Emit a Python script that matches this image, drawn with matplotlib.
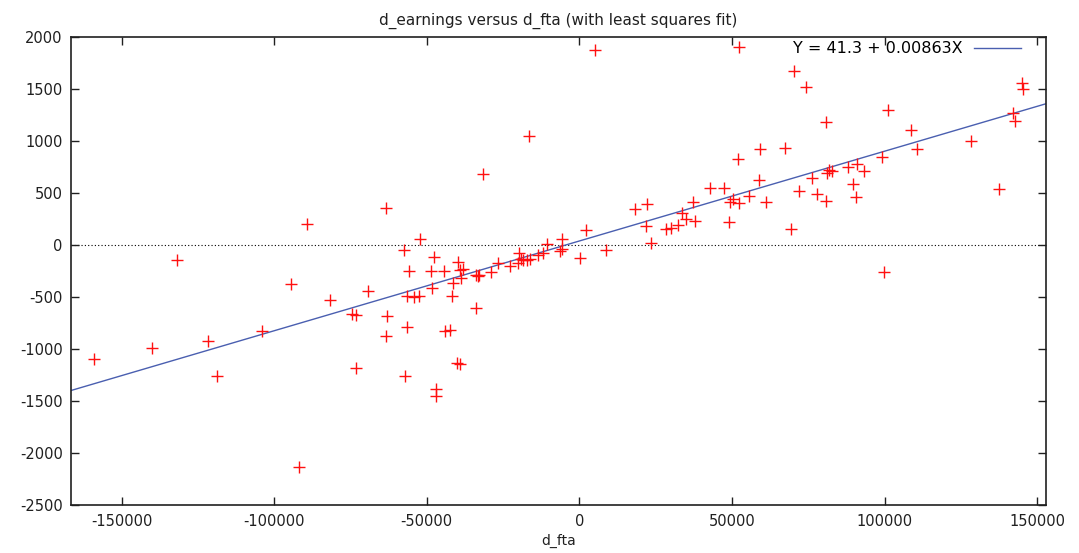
import matplotlib
matplotlib.use('Agg')
import matplotlib.pyplot as plt
import numpy as np

# d_fta (x) and d_earnings (y)
d_fta = [-158980, -140170, -131780, -121820, -118680, -104130, -94430, -89190,
         -92000, -81750, -74640, -73330, -73130, -69400, -63400, -63170, -63240,
         -57500, -57270, -56620, -55770, -56620, -54130, -52590, -52260, -48660,
         -48230, -47670, -47020, -47020, -44300, -44070, -42430, -41680, -41550,
         -39910, -40040, -39000, -38930, -38270, -39150, -34010, -33810, -33260,
         -32800, -31520, -29000, -26610, -22770, -20250, -19820, -19270, -18410,
         -17300, -16220, -16550, -13500, -11860, -10750, -6390, -5830, -5830,
         260, 2230, 5080, 8580, 18180, 22020, 21690, 23430, 28340, 29880, 32180,
         33490, 34900, 37290, 37840, 42760, 47350, 49080, 49310, 50200, 52360,
         51830, 52360, 55640, 58910, 59140, 61010, 67330, 69300, 70280, 71920,
         74210, 76180, 77920, 80670, 80770, 81000, 81850, 82630, 88070, 89710,
         90500, 90830, 93320, 99210, 99870, 101180, 108520, 110480, 128280,
         137450, 142140, 142690, 144890, 145220]
d_earnings = [-1096, -988, -144, -923, -1260, -827, -372, 205,
              -2129, -529, -663, -673, -1177, -442, 362, -677, -869,
              -45, -1260, -783, -244, -488, -494, -488, 58, -244,
              -413, -110, -1382, -1446, -244, -821, -812, -485, -360,
              -158, -1129, -1140, -312, -231, -238, -606, -286, -292,
              -286, 686, -257, -173, -199, -173, -77, -135, -141,
              -141, -135, 1051, -93, -71, 12, -52, -38, 58,
              -122, 147, 1878, -50, 346, 397, 188, 19, 157, 169, 195,
              308, 250, 419, 234, 548, 554, 227, 413, 445, 404,
              830, 1910, 477, 628, 926, 419, 933, 157, 1679, 525,
              1519, 644, 490, 1183, 429, 692, 724, 712, 756, 589,
              467, 782, 717, 849, -260, 1301, 1109, 923, 1006,
              541, 1275, 1198, 1563, 1500]

intercept = 41.3
slope = 0.00863
fit_label = 'Y = 41.3 + 0.00863X'
x_range = [-166600, 152800]

plt.rcParams['axes.unicode_minus'] = False
plt.rcParams['font.family'] = 'DejaVu Sans'

fig = plt.figure(figsize=(10.79, 5.53), dpi=100)
ax = fig.add_axes([0.0658, 0.0863, 0.9033, 0.8463])

ax.axhline(0, color='black', linestyle=(0, (1, 2)), linewidth=0.8, zorder=1)
ax.plot(d_fta, d_earnings, '+', color='#ff1010', markersize=8.8,
        markeredgewidth=1.0, zorder=3)
xs = np.array(x_range)
ax.plot(xs, intercept + slope * xs, color='#4a5fb0', linewidth=1.0,
        label=fit_label, zorder=2)

ax.set_xlim(x_range)
ax.set_ylim(-2500, 2000)
ax.set_xticks([-150000, -100000, -50000, 0, 50000, 100000, 150000])
ax.set_yticks(np.arange(-2500, 2001, 500))
ax.tick_params(direction='in', top=True, right=True, length=6, width=1,
               labelsize=10.5, colors='#202020', pad=6)
for s in ax.spines.values():
    s.set_linewidth(1.2)
    s.set_color('#202020')

ax.set_title('d_earnings versus d_fta (with least squares fit)', fontsize=11,
             pad=9, color='#202020')
ax.set_xlabel('d_fta', fontsize=10, labelpad=4, color='#202020')

leg = ax.legend(loc='upper right', bbox_to_anchor=(0.985, 1.012), frameon=False,
                fontsize=11.5, handlelength=3.0, handletextpad=0.7,
                borderaxespad=0.2, markerfirst=False)

fig.savefig('out.png', dpi=100)
